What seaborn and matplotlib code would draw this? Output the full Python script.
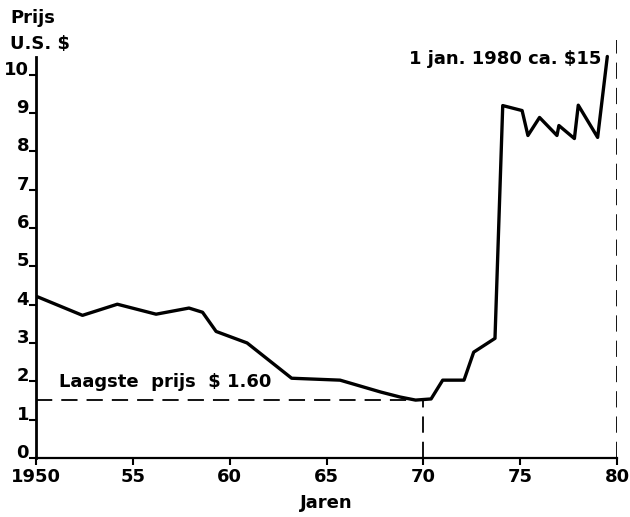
import pandas as pd
import numpy as np
import seaborn as sns
import matplotlib.pyplot as plt

# olieprijs per vat
jaren = [1950.0, 1952.4, 1954.2, 1956.2, 1957.9, 1958.6, 1959.3, 1960.9, 1963.2,
         1965.7, 1967.8, 1968.8, 1969.6, 1970.4, 1971.0, 1972.1, 1972.6, 1973.7,
         1974.1, 1975.1, 1975.4, 1976.0, 1976.9, 1977.0, 1977.8, 1978.0, 1979.0,
         1979.5]
prijs = [4.22, 3.72, 4.01, 3.75, 3.91, 3.80, 3.30, 3.00, 2.08,
         2.03, 1.72, 1.59, 1.51, 1.54, 2.03, 2.03, 2.76, 3.12,
         9.19, 9.06, 8.41, 8.88, 8.41, 8.67, 8.33, 9.20, 8.36,
         10.47]

laagste_jaar = 1970
laagste_prijs = 1.52
x_ticks = [1950, 1955, 1960, 1965, 1970, 1975, 1980]
x_labels = ['1950', '55', '60', '65', '70', '75', '80']
y_ticks = list(range(0, 11))

df = pd.DataFrame({'Jaar': jaren, 'Prijs': prijs})

sns.set_style('ticks')
plt.rcParams['font.family'] = ['DejaVu Sans']
plt.rcParams['font.weight'] = 'bold'
plt.rcParams['text.color'] = 'black'
plt.rcParams['axes.labelcolor'] = 'black'
plt.rcParams['axes.edgecolor'] = 'black'

fig = plt.figure(figsize=(6.3, 5.17), dpi=100)
ax = fig.add_axes([36 / 630, 59 / 517, 581 / 630, 418 / 517])

sns.lineplot(data=df, x='Jaar', y='Prijs', ax=ax, color='black', linewidth=2.4)

# stippellijnen
dash = dict(color='black', linewidth=1.3, dashes=(9, 5))
ax.plot([1950, laagste_jaar], [laagste_prijs, laagste_prijs], **dash)
ax.plot([laagste_jaar, laagste_jaar], [0, laagste_prijs], **dash)
ax.plot([1980, 1980], [0, 10.9], **dash)

ax.set_xlim(1950, 1980)
ax.set_ylim(0, 10.9)
sns.despine(ax=ax)
ax.spines['left'].set_bounds(0, 10.45)
ax.spines['left'].set_linewidth(2)
ax.spines['bottom'].set_linewidth(1.6)

ax.set_xticks(x_ticks)
ax.set_xticklabels(x_labels)
ax.set_yticks(y_ticks)
ax.tick_params(axis='both', direction='out', length=5, width=1.5, labelsize=13, colors='black')
ax.tick_params(axis='y', pad=0)
ax.tick_params(axis='x', pad=2)
for lab in ax.get_yticklabels():
    lab.set_verticalalignment('baseline')
    lab.set_fontweight('bold')
for lab in ax.get_xticklabels():
    lab.set_fontweight('bold')

ax.set_xlabel('Jaren', fontsize=13, fontweight='bold', labelpad=6)
ax.set_ylabel('')

fig.text(10 / 630, 1 - 18 / 517, 'Prijs', fontsize=13, fontweight='bold', va='center', ha='left')
fig.text(10 / 630, 1 - 44 / 517, 'U.S. $', fontsize=13, fontweight='bold', va='center', ha='left')
ax.text(1979.2, 10.4, '1 jan. 1980 ca. $15', fontsize=13, fontweight='bold', ha='right', va='center')
ax.text(1951.2, 1.98, 'Laagste  prijs  $ 1.60', fontsize=13, fontweight='bold', ha='left', va='center')

fig.savefig('out.png', dpi=100)
